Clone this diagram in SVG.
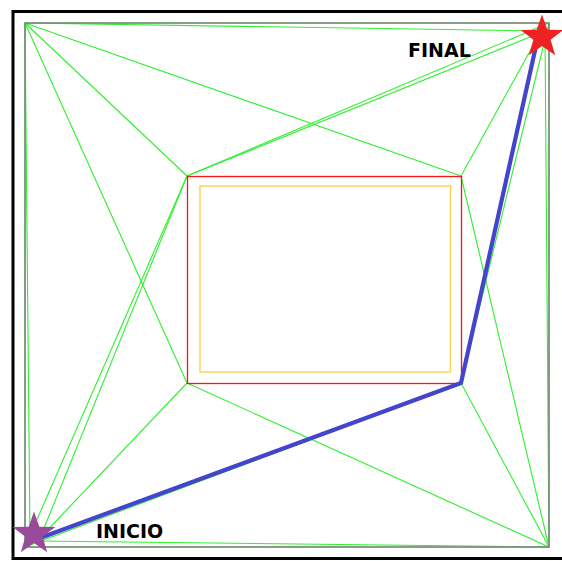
<svg xmlns="http://www.w3.org/2000/svg" width="562" height="561" viewBox="0 0 562 561">
<style>
.edge{stroke:#2ef02e;stroke-width:1.1;fill:none}
.lbl{font-family:"DejaVu Sans",sans-serif;font-weight:bold;font-size:19px;fill:#000}
</style>
<defs>
<path id="star" d="M0,-22.5 L5.3,-7.3 L21.4,-7 L8.6,2.8 L13.2,18.2 L0,9 L-13.2,18.2 L-8.6,2.8 L-21.4,-7 L-5.3,-7.3 Z"/>
</defs>
<rect width="562" height="561" fill="#fff"/>
<rect id="frame" x="13" y="11.5" width="552" height="547" fill="none" stroke="#000" stroke-width="3"/>
<g id="connectors">
<line class="edge" x1="25" y1="23" x2="549" y2="23"/>
<line class="edge" x1="549" y1="23" x2="549" y2="547"/>
<line class="edge" x1="549" y1="547" x2="25" y2="547"/>
<line class="edge" x1="25" y1="547" x2="25" y2="23"/>
<line class="edge" x1="25" y1="23" x2="187" y2="176"/>
<line class="edge" x1="25" y1="23" x2="461" y2="176"/>
<line class="edge" x1="25" y1="23" x2="187" y2="383"/>
<line class="edge" x1="25" y1="23" x2="540" y2="31"/>
<line class="edge" x1="25" y1="23" x2="30" y2="539"/>
<line class="edge" x1="549" y1="23" x2="187" y2="176"/>
<line class="edge" x1="549" y1="23" x2="461" y2="383"/>
<line class="edge" x1="540" y1="33" x2="187" y2="176"/>
<line class="edge" x1="540" y1="33" x2="461" y2="176"/>
<line class="edge" x1="540" y1="33" x2="461" y2="383"/>
<line class="edge" x1="545" y1="33" x2="549" y2="547"/>
<line class="edge" x1="549" y1="547" x2="461" y2="176"/>
<line class="edge" x1="549" y1="547" x2="461" y2="383"/>
<line class="edge" x1="549" y1="547" x2="187" y2="383"/>
<line class="edge" x1="549" y1="547" x2="36" y2="541"/>
<line class="edge" x1="25" y1="547" x2="187" y2="176"/>
<line class="edge" x1="25" y1="547" x2="461" y2="383"/>
<line class="edge" x1="40" y1="538" x2="187" y2="176"/>
<line class="edge" x1="40" y1="538" x2="187" y2="383"/>
</g>
<rect id="workspace" x="25" y="23" width="524" height="524" fill="none" stroke="#858585" stroke-width="1.6"/>
<g id="obstacle">
<rect x="187.5" y="176.5" width="274" height="207" fill="none" stroke="#ff1010" stroke-width="1.3"/>
</g>
<g id="inner-area">
<rect x="200" y="186" width="250.5" height="186" fill="none" stroke="#ffd050" stroke-width="1.4"/>
</g>
<g id="path">
<polyline points="40,538 461,383 538,37" fill="none" stroke="#4444cc" stroke-width="4.2" stroke-linejoin="round"/>
</g>
<g id="start">
<use href="#star" x="34" y="534" fill="#9a4a9a"/>
<text class="lbl" x="96" y="538">INICIO</text>
</g>
<g id="goal">
<use href="#star" x="542" y="37" fill="#ee2222"/>
<text class="lbl" x="408" y="57">FINAL</text>
</g>
</svg>
